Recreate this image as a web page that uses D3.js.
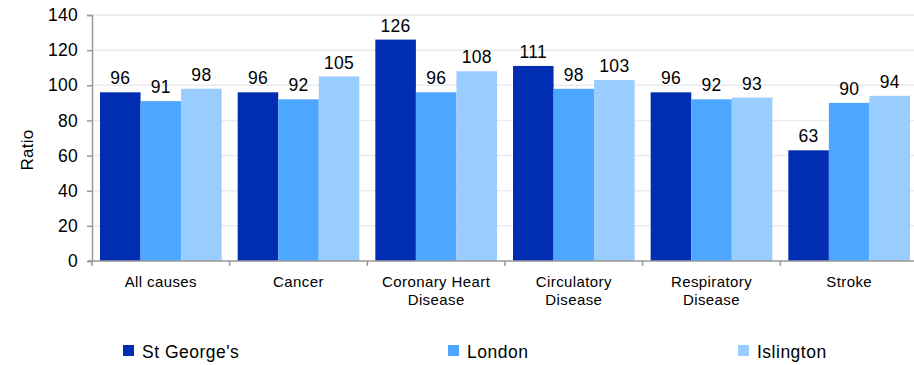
<!DOCTYPE html>
<html>
<head>
<meta charset="utf-8">
<script src="https://cdn.jsdelivr.net/npm/d3@7"></script>
<style>
  body { margin: 0; background: #fff; }
  text { font-family: "Liberation Sans", Arial, sans-serif; fill: #000; }
</style>
</head>
<body>
<script>
// chart data
const categories = [["All causes"], ["Cancer"], ["Coronary Heart", "Disease"], ["Circulatory", "Disease"], ["Respiratory", "Disease"], ["Stroke"]];
const seriesNames = ["St George's", "London", "Islington"];
const stGeorges = [96, 96, 126, 111, 96, 63];
const london = [91, 92, 96, 98, 92, 90];
const islington = [98, 105, 108, 103, 93, 94];
const yTicks = [0, 20, 40, 60, 80, 100, 120, 140];

const colours = ["#002db2", "#4da6ff", "#99ccff"];
const series = [stGeorges, london, islington];

const width = 914, height = 365;
const svg = d3.select("body").append("svg").attr("width", width).attr("height", height);

const x = d3.scaleBand().domain(d3.range(categories.length)).range([92, 918]);
const inner = d3.scaleBand().domain(d3.range(series.length)).range([8, x.bandwidth() - 8]);
const y = d3.scaleLinear().domain([0, 140]).range([261, 15]);

// grid
svg.append("g").selectAll("line").data(yTicks.slice(1)).enter().append("line")
  .attr("x1", 92).attr("x2", width)
  .attr("y1", d => y(d)).attr("y2", d => y(d))
  .attr("stroke", "#ebebeb").attr("stroke-width", 1.5);

// bars
series.forEach(function (vals, s) {
  const g = svg.append("g");
  g.selectAll("rect").data(vals).enter().append("rect")
    .attr("x", (d, i) => x(i) + inner(s))
    .attr("width", inner.bandwidth())
    .attr("y", d => y(d))
    .attr("height", d => y(0) - y(d))
    .attr("fill", colours[s]);
  g.selectAll("text").data(vals).enter().append("text")
    .attr("x", (d, i) => x(i) + inner(s) + inner.bandwidth() / 2)
    .attr("y", d => y(d) - 8)
    .attr("text-anchor", "middle")
    .attr("font-size", 17.5)
    .attr("letter-spacing", 0.3)
    .text(d => d);
});

// y axis
const yAxis = svg.append("g").attr("transform", "translate(92,0)")
  .call(d3.axisLeft(y).tickValues(yTicks).tickSize(5).tickPadding(9));
yAxis.select(".domain").attr("stroke", "#999").attr("stroke-width", 1.5);
yAxis.selectAll(".tick line").attr("stroke", "#999").attr("stroke-width", 1.5);
yAxis.selectAll(".tick text").attr("font-size", 17.5).attr("letter-spacing", 0.3);

// x axis
svg.append("line").attr("x1", 88).attr("x2", width).attr("y1", y(0)).attr("y2", y(0))
  .attr("stroke", "#999").attr("stroke-width", 1.5);
svg.append("g").selectAll("line").data(d3.range(categories.length)).enter().append("line")
  .attr("x1", d => x(d)).attr("x2", d => x(d))
  .attr("y1", y(0)).attr("y2", y(0) + 5)
  .attr("stroke", "#999").attr("stroke-width", 1.5);

const labels = svg.append("g").selectAll("text").data(categories).enter().append("text")
  .attr("text-anchor", "middle")
  .attr("font-size", 15)
  .attr("letter-spacing", 0.4);
labels.each(function (lines, i) {
  const t = d3.select(this);
  lines.forEach(function (l, k) {
    t.append("tspan").attr("x", x(i) + x.bandwidth() / 2).attr("y", 287 + k * 18).text(l);
  });
});

// axis title
svg.append("text")
  .attr("transform", "translate(33,150) rotate(-90)")
  .attr("text-anchor", "middle")
  .attr("font-size", 17)
  .attr("letter-spacing", 0.3)
  .text("Ratio");

// legend
const legendX = [123, 448, 738];
const legend = svg.append("g").selectAll("g").data(seriesNames).enter().append("g")
  .attr("transform", (d, i) => "translate(" + legendX[i] + ",345)");
legend.append("rect").attr("width", 11).attr("height", 11).attr("fill", (d, i) => colours[i]);
legend.append("text").attr("x", 19).attr("y", 12.5).attr("font-size", 17.5).attr("letter-spacing", 0.5).text(d => d);
</script>
</body>
</html>
